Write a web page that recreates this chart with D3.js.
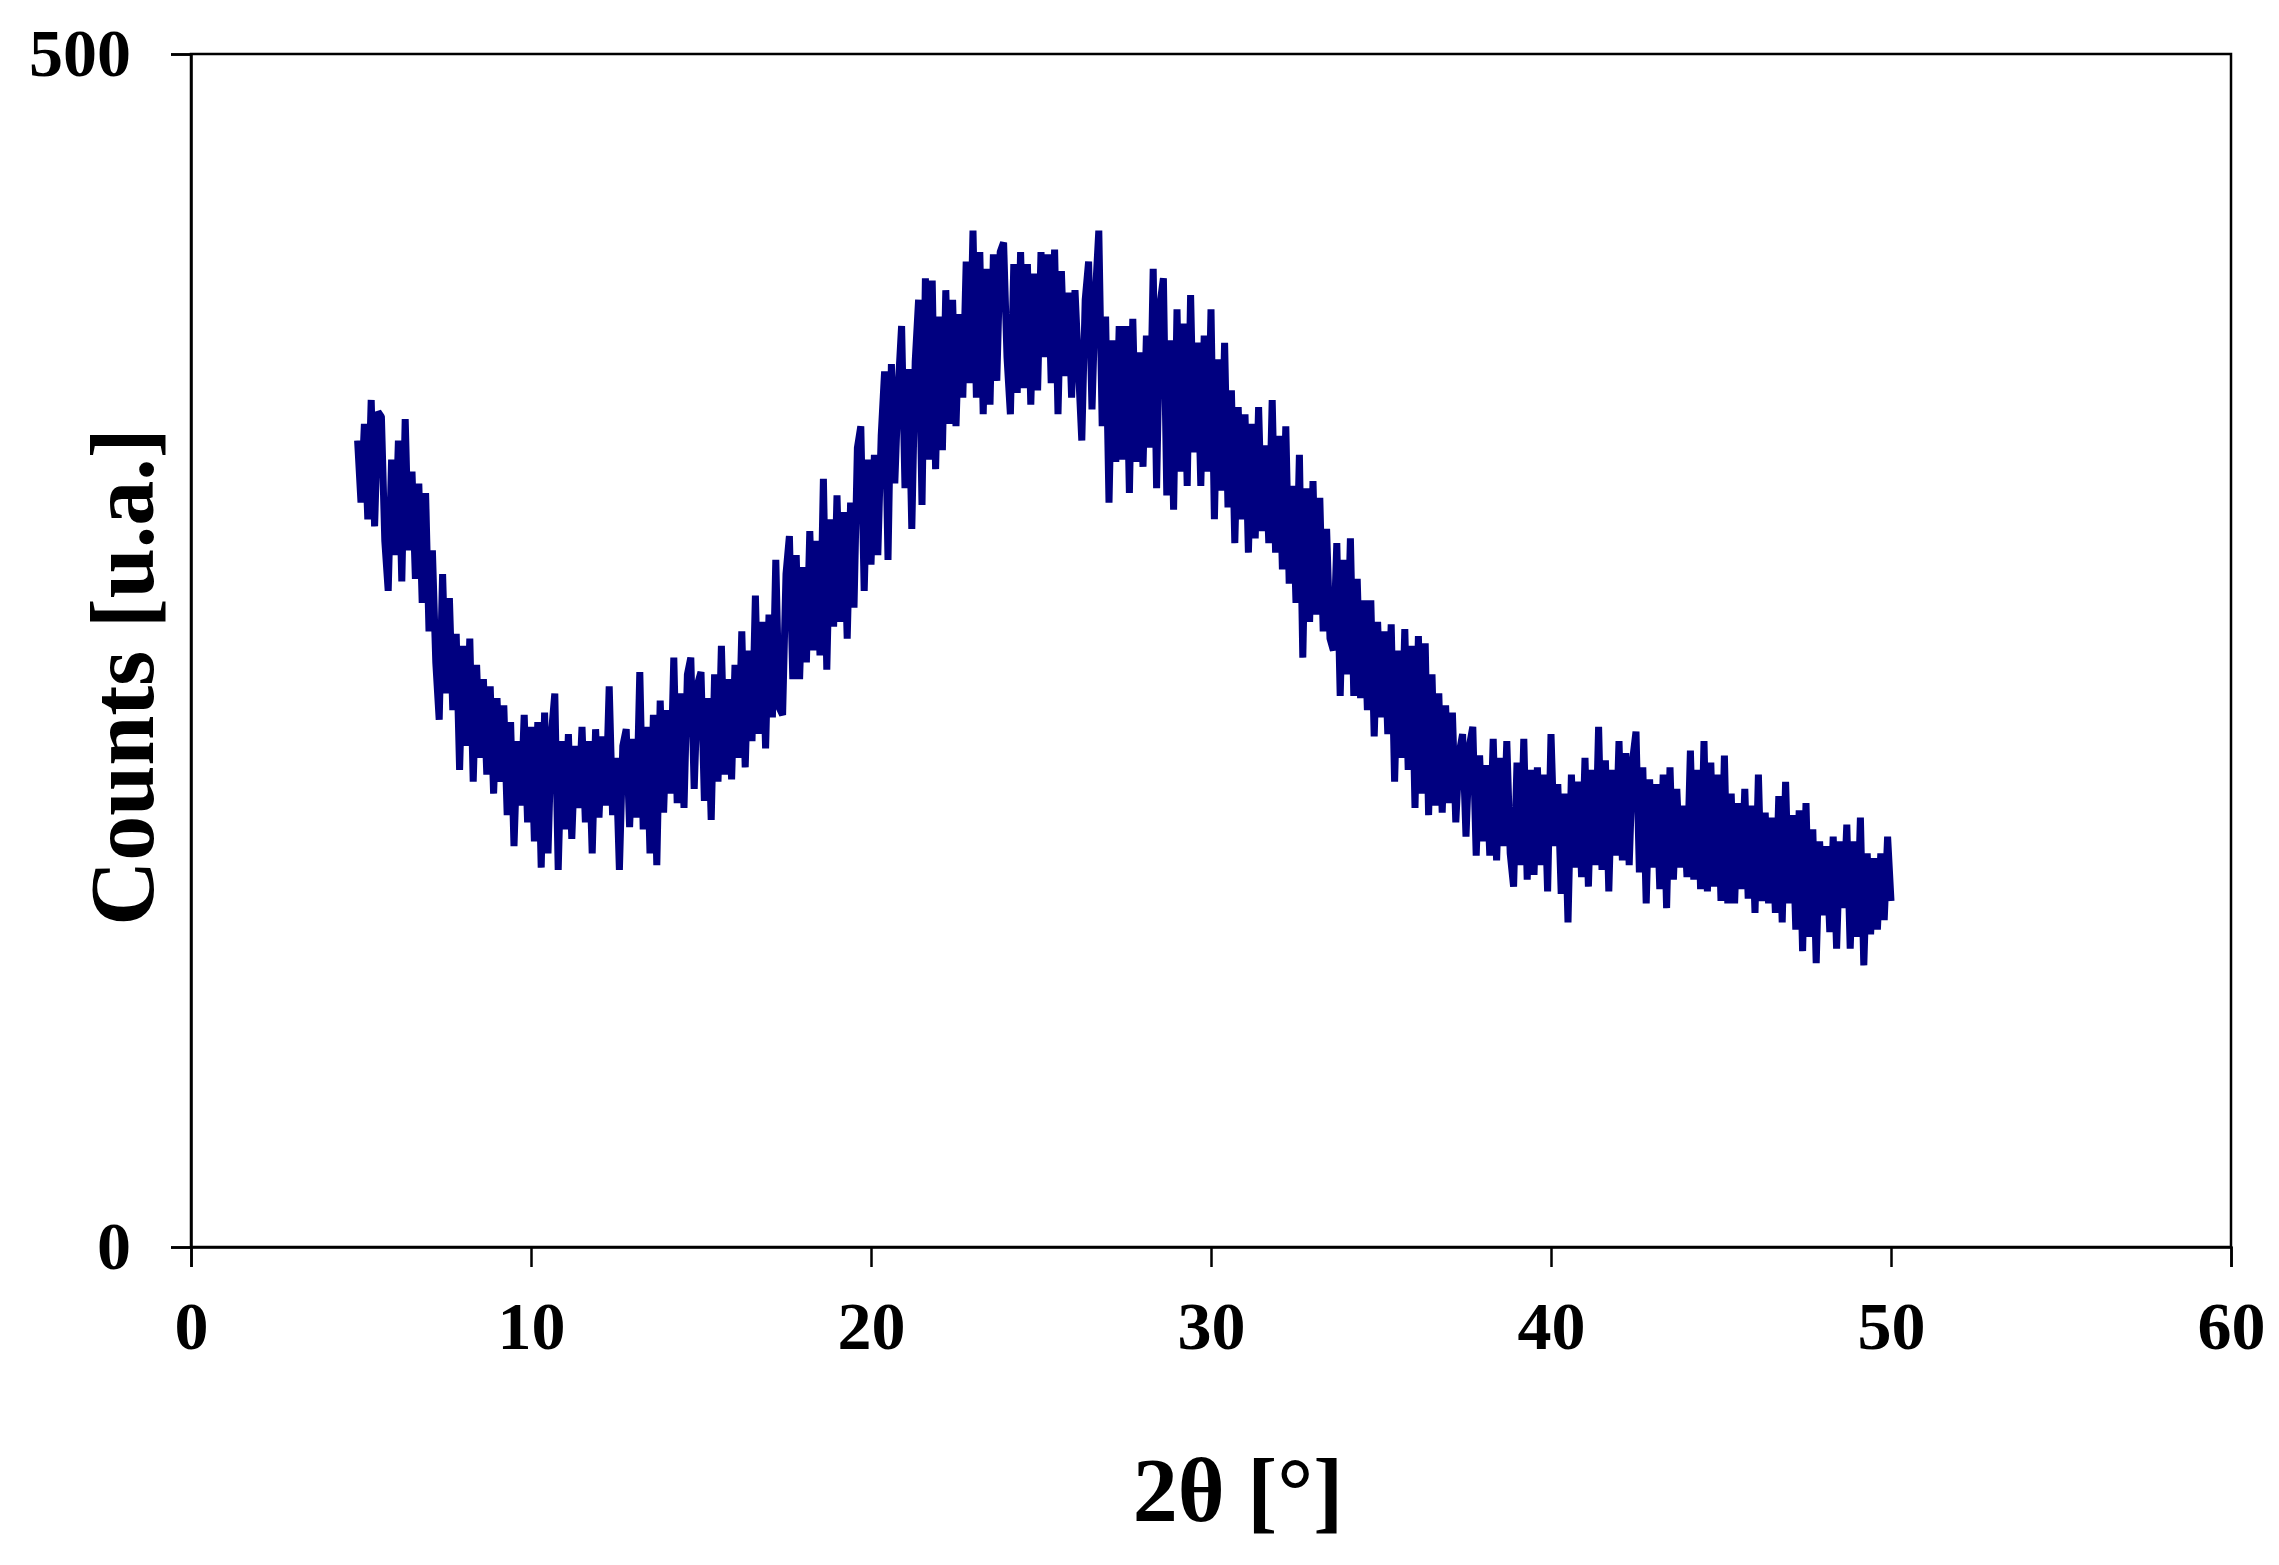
<!DOCTYPE html>
<html>
<head>
<meta charset="utf-8">
<script src="https://cdn.jsdelivr.net/npm/d3@7"></script>
<style>
  html, body { margin: 0; padding: 0; background: #fff; }
  svg { display: block; }
  text { font-family: "Liberation Serif", "Times New Roman", serif; font-weight: bold; fill: #000; }
</style>
</head>
<body>
<svg id="chart" width="2279" height="1565"></svg>
<script>
// ---- data ----
const xTicks = [0, 10, 20, 30, 40, 50, 60];
const yTicks = [0, 500];
const xTitle = "2θ [°]";
const yTitle = "Counts [u.a.]";
// scan: 2θ from 4.9° to 50.0°, step 0.1°
const twoThetaStart = 4.9;
const twoThetaStep = 0.1;
const counts = [
  338,                                                  // 4.9
  312, 345, 305, 355, 302, 350, 348, 296, 275, 330,     // 5.0-5.9
  290, 338, 279, 347, 292, 325, 280, 320, 270, 316,     // 6.0-6.9
  258, 292, 245, 221, 282, 232, 272, 225, 257, 200,     // 7.0-7.9
  252, 210, 255, 195, 244, 205, 238, 198, 235, 190,     // 8.0-8.9
  230, 195, 227, 181, 220, 168, 212, 185, 223, 178,     // 9.0-9.9
  218, 170, 220, 159, 224, 165, 215, 232, 158, 212,     // 10.0-10.9
  175, 215, 171, 210, 184, 218, 178, 212, 165, 217,     // 11.0-11.9
  180, 214, 185, 235, 181, 205, 158, 210, 217, 176,     // 12.0-12.9
  213, 180, 241, 175, 218, 165, 223, 160, 229, 182,     // 13.0-13.9
  225, 190, 247, 186, 232, 184, 240, 247, 192, 236,     // 14.0-14.9
  241, 187, 230, 179, 240, 195, 252, 198, 238, 196,     // 15.0-15.9
  244, 205, 258, 201, 250, 212, 273, 215, 262, 209,     // 16.0-16.9
  265, 222, 288, 226, 223, 282, 298, 238, 290, 238,     // 17.0-17.9
  285, 245, 300, 250, 296, 248, 322, 242, 305, 260,     // 18.0-18.9
  315, 262, 308, 255, 312, 268, 335, 344, 275, 330,     // 19.0-19.9
  286, 332, 290, 340, 367, 288, 370, 320, 360, 386,     // 20.0-20.9
  318, 368, 301, 371, 397, 311, 406, 330, 405, 326,     // 21.0-21.9
  390, 334, 401, 345, 397, 344, 391, 356, 413, 362,     // 22.0-22.9
  426, 356, 417, 349, 410, 353, 416, 363, 417, 421,     // 23.0-23.9
  373, 349, 412, 358, 417, 360, 412, 353, 408, 359,     // 24.0-24.9
  417, 373, 416, 362, 418, 349, 409, 365, 400, 356,     // 25.0-25.9
  401, 369, 338, 397, 413, 351, 399, 426, 344, 390,     // 26.0-26.9
  312, 380, 329, 386, 330, 386, 316, 389, 329, 375,     // 27.0-27.9
  327, 382, 335, 410, 318, 395, 406, 315, 380, 309,     // 28.0-28.9
  393, 325, 387, 319, 399, 333, 379, 319, 382, 325,     // 29.0-29.9
  393, 305, 372, 317, 379, 310, 359, 295, 352, 305,     // 30.0-30.9
  349, 291, 345, 297, 352, 300, 336, 295, 355, 291,     // 31.0-31.9
  340, 284, 344, 278, 319, 270, 332, 247, 318, 262,     // 32.0-32.9
  321, 265, 314, 258, 301, 255, 250, 295, 231, 288,     // 33.0-33.9
  240, 297, 231, 280, 230, 271, 225, 271, 214, 262,     // 34.0-34.9
  222, 258, 215, 261, 195, 250, 205, 259, 200, 252,     // 35.0-35.9
  184, 256, 190, 253, 181, 240, 185, 232, 182, 227,     // 36.0-36.9
  186, 224, 178, 207, 215, 172, 210, 218, 164, 206,     // 37.0-37.9
  170, 202, 164, 213, 162, 205, 168, 212, 165, 151,     // 38.0-38.9
  203, 160, 213, 154, 200, 156, 201, 160, 198, 149,     // 39.0-39.9
  215, 168, 194, 148, 190, 136, 198, 159, 195, 155,     // 40.0-40.9
  205, 151, 200, 160, 218, 158, 204, 149, 200, 164,     // 41.0-41.9
  212, 162, 207, 160, 204, 216, 157, 201, 144, 196,     // 42.0-42.9
  159, 194, 150, 198, 142, 201, 154, 192, 159, 185,     // 43.0-43.9
  155, 208, 154, 200, 150, 212, 149, 203, 151, 198,     // 44.0-44.9
  145, 206, 144, 190, 144, 186, 150, 192, 146, 185,     // 45.0-45.9
  140, 198, 145, 182, 144, 180, 140, 189, 136, 195,     // 46.0-46.9
  144, 181, 133, 183, 124, 186, 130, 175, 119, 170,     // 47.0-47.9
  139, 168, 132, 172, 125, 170, 142, 177, 125, 170,     // 48.0-48.9
  130, 180, 118, 165, 131, 163, 133, 165, 137, 172,     // 49.0-49.9
  145                                                   // 50.0
];

// ---- layout ----
const W = 2279, H = 1565;
const plot = { left: 191, right: 2231, top: 54, bottom: 1247 };

const svg = d3.select("#chart");
svg.append("rect").attr("width", W).attr("height", H).attr("fill", "#fff");

const x = d3.scaleLinear().domain([0, 60]).range([plot.left, plot.right]);
const y = d3.scaleLinear().domain([0, 500]).range([plot.bottom, plot.top]);

const points = counts.map((c, i) => [twoThetaStart + i * twoThetaStep, c]);

// data line
const line = d3.line().x(d => x(d[0])).y(d => y(d[1]));
svg.append("path")
  .datum(points)
  .attr("d", line)
  .attr("fill", "none")
  .attr("stroke", "#000080")
  .attr("stroke-width", 7)
  .attr("stroke-linejoin", "bevel");

// frame (top and right border)
svg.append("rect")
  .attr("x", plot.left).attr("y", plot.top)
  .attr("width", plot.right - plot.left).attr("height", plot.bottom - plot.top)
  .attr("fill", "none").attr("stroke", "#000").attr("stroke-width", 2.5);

// bottom axis
const xAxis = d3.axisBottom(x).tickValues(xTicks).tickSize(20).tickPadding(34).tickFormat(d3.format("d"));
const gx = svg.append("g").attr("transform", `translate(0,${plot.bottom})`).call(xAxis);
gx.select(".domain").attr("stroke", "#000").attr("stroke-width", 2.5);
gx.selectAll(".tick line").attr("stroke", "#000").attr("stroke-width", 2.5);
gx.selectAll(".tick text")
  .attr("font-family", '"Liberation Serif", "Times New Roman", serif')
  .attr("font-weight", "bold")
  .attr("font-size", 68)
  .attr("fill", "#000");

// left axis
const yAxis = d3.axisLeft(y).tickValues(yTicks).tickSize(20).tickPadding(40).tickFormat(d3.format("d"));
const gy = svg.append("g").attr("transform", `translate(${plot.left},0)`).call(yAxis);
gy.select(".domain").attr("stroke", "#000").attr("stroke-width", 2.5);
gy.selectAll(".tick line").attr("stroke", "#000").attr("stroke-width", 2.5);
gy.selectAll(".tick text")
  .attr("font-family", '"Liberation Serif", "Times New Roman", serif')
  .attr("font-weight", "bold")
  .attr("font-size", 68)
  .attr("fill", "#000");

// axis titles
svg.append("text")
  .attr("x", 1238).attr("y", 1521)
  .attr("text-anchor", "middle")
  .attr("font-size", 90)
  .text(xTitle);

svg.append("text")
  .attr("transform", "translate(153,677) rotate(-90)")
  .attr("text-anchor", "middle")
  .attr("font-size", 90)
  .text(yTitle);
</script>
</body>
</html>
